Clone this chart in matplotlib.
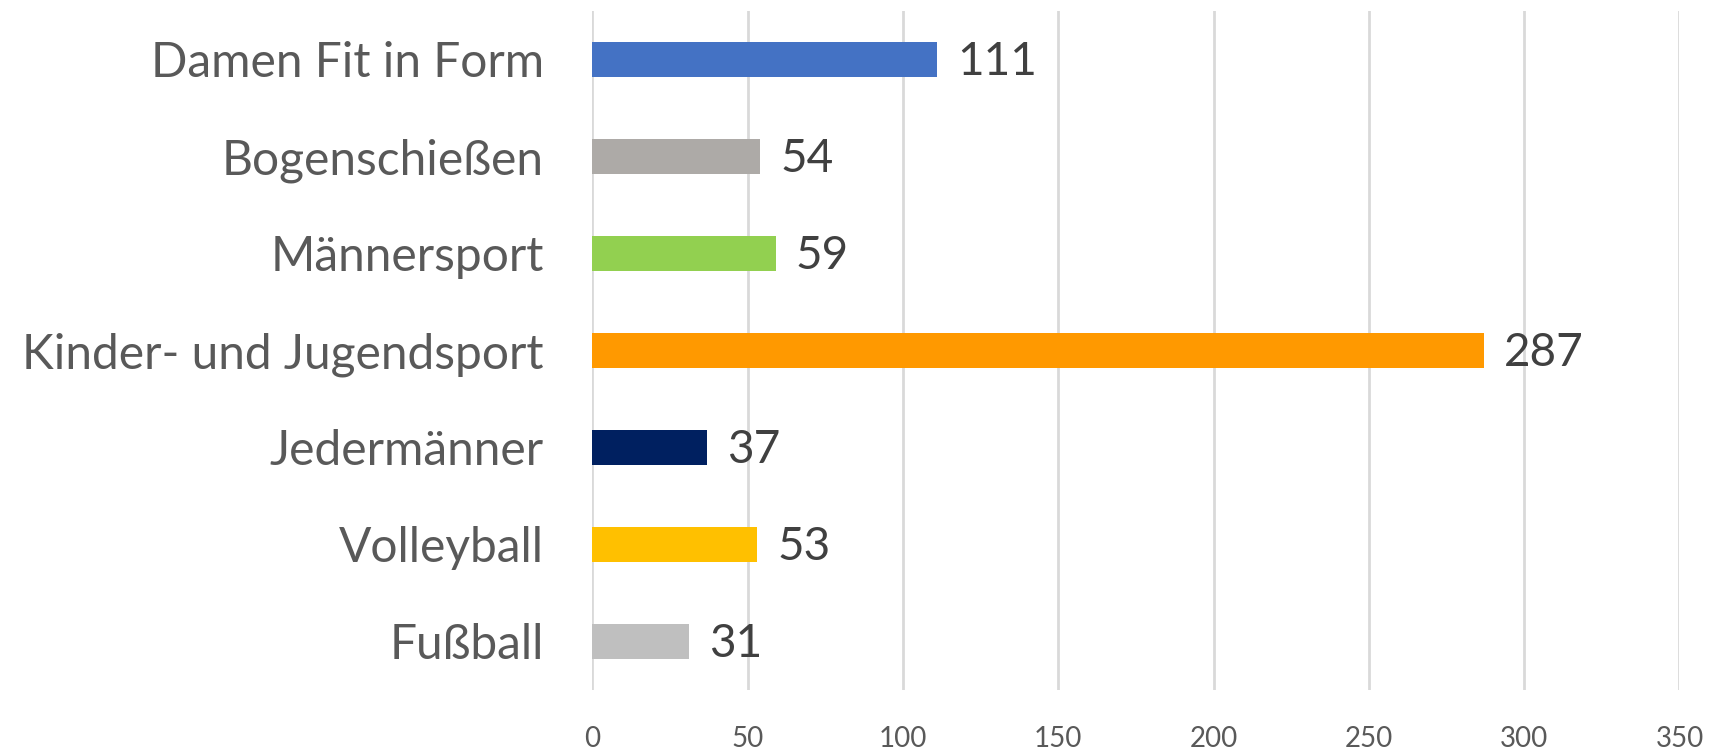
import matplotlib.pyplot as plt

categories = ['Damen Fit in Form', 'Bogenschießen', 'Männersport',
              'Kinder- und Jugendsport', 'Jedermänner', 'Volleyball', 'Fußball']
values = [111, 54, 59, 287, 37, 53, 31]
colors = ['#4472C4', '#ADAAA7', '#92D050', '#FF9900', '#002060', '#FFC000', '#BFBFBF']
xticks = [0, 50, 100, 150, 200, 250, 300, 350]

plt.rcParams['font.family'] = ['Lato', 'DejaVu Sans']

fig = plt.figure(figsize=(17.12, 7.53), dpi=100)
ax = fig.add_axes([0.346, 0.0837, 0.635, 0.9017])

y = list(range(len(categories)))
ax.barh(y, values, height=0.36, color=colors, zorder=3)
for yi, v in zip(y, values):
    ax.text(v + 6.5, yi + 0.03, str(v), va='center', ha='left', fontsize=33, color='#404040')

ax.set_ylim(len(categories) - 0.5, -0.5)
ax.set_xlim(0, 350)
ax.set_yticks(y)
ax.set_yticklabels(categories, fontsize=34.5, color='#595959')
ax.set_xticks(xticks)
ax.set_xticklabels([str(t) for t in xticks], fontsize=20, color='#595959')
ax.tick_params(axis='y', length=0, pad=35)
ax.tick_params(axis='x', length=0, pad=26)
ax.grid(axis='x', color='#D9D9D9', linewidth=2, zorder=0)
for s in ax.spines.values():
    s.set_visible(False)

fig.savefig('out.png', dpi=100)
